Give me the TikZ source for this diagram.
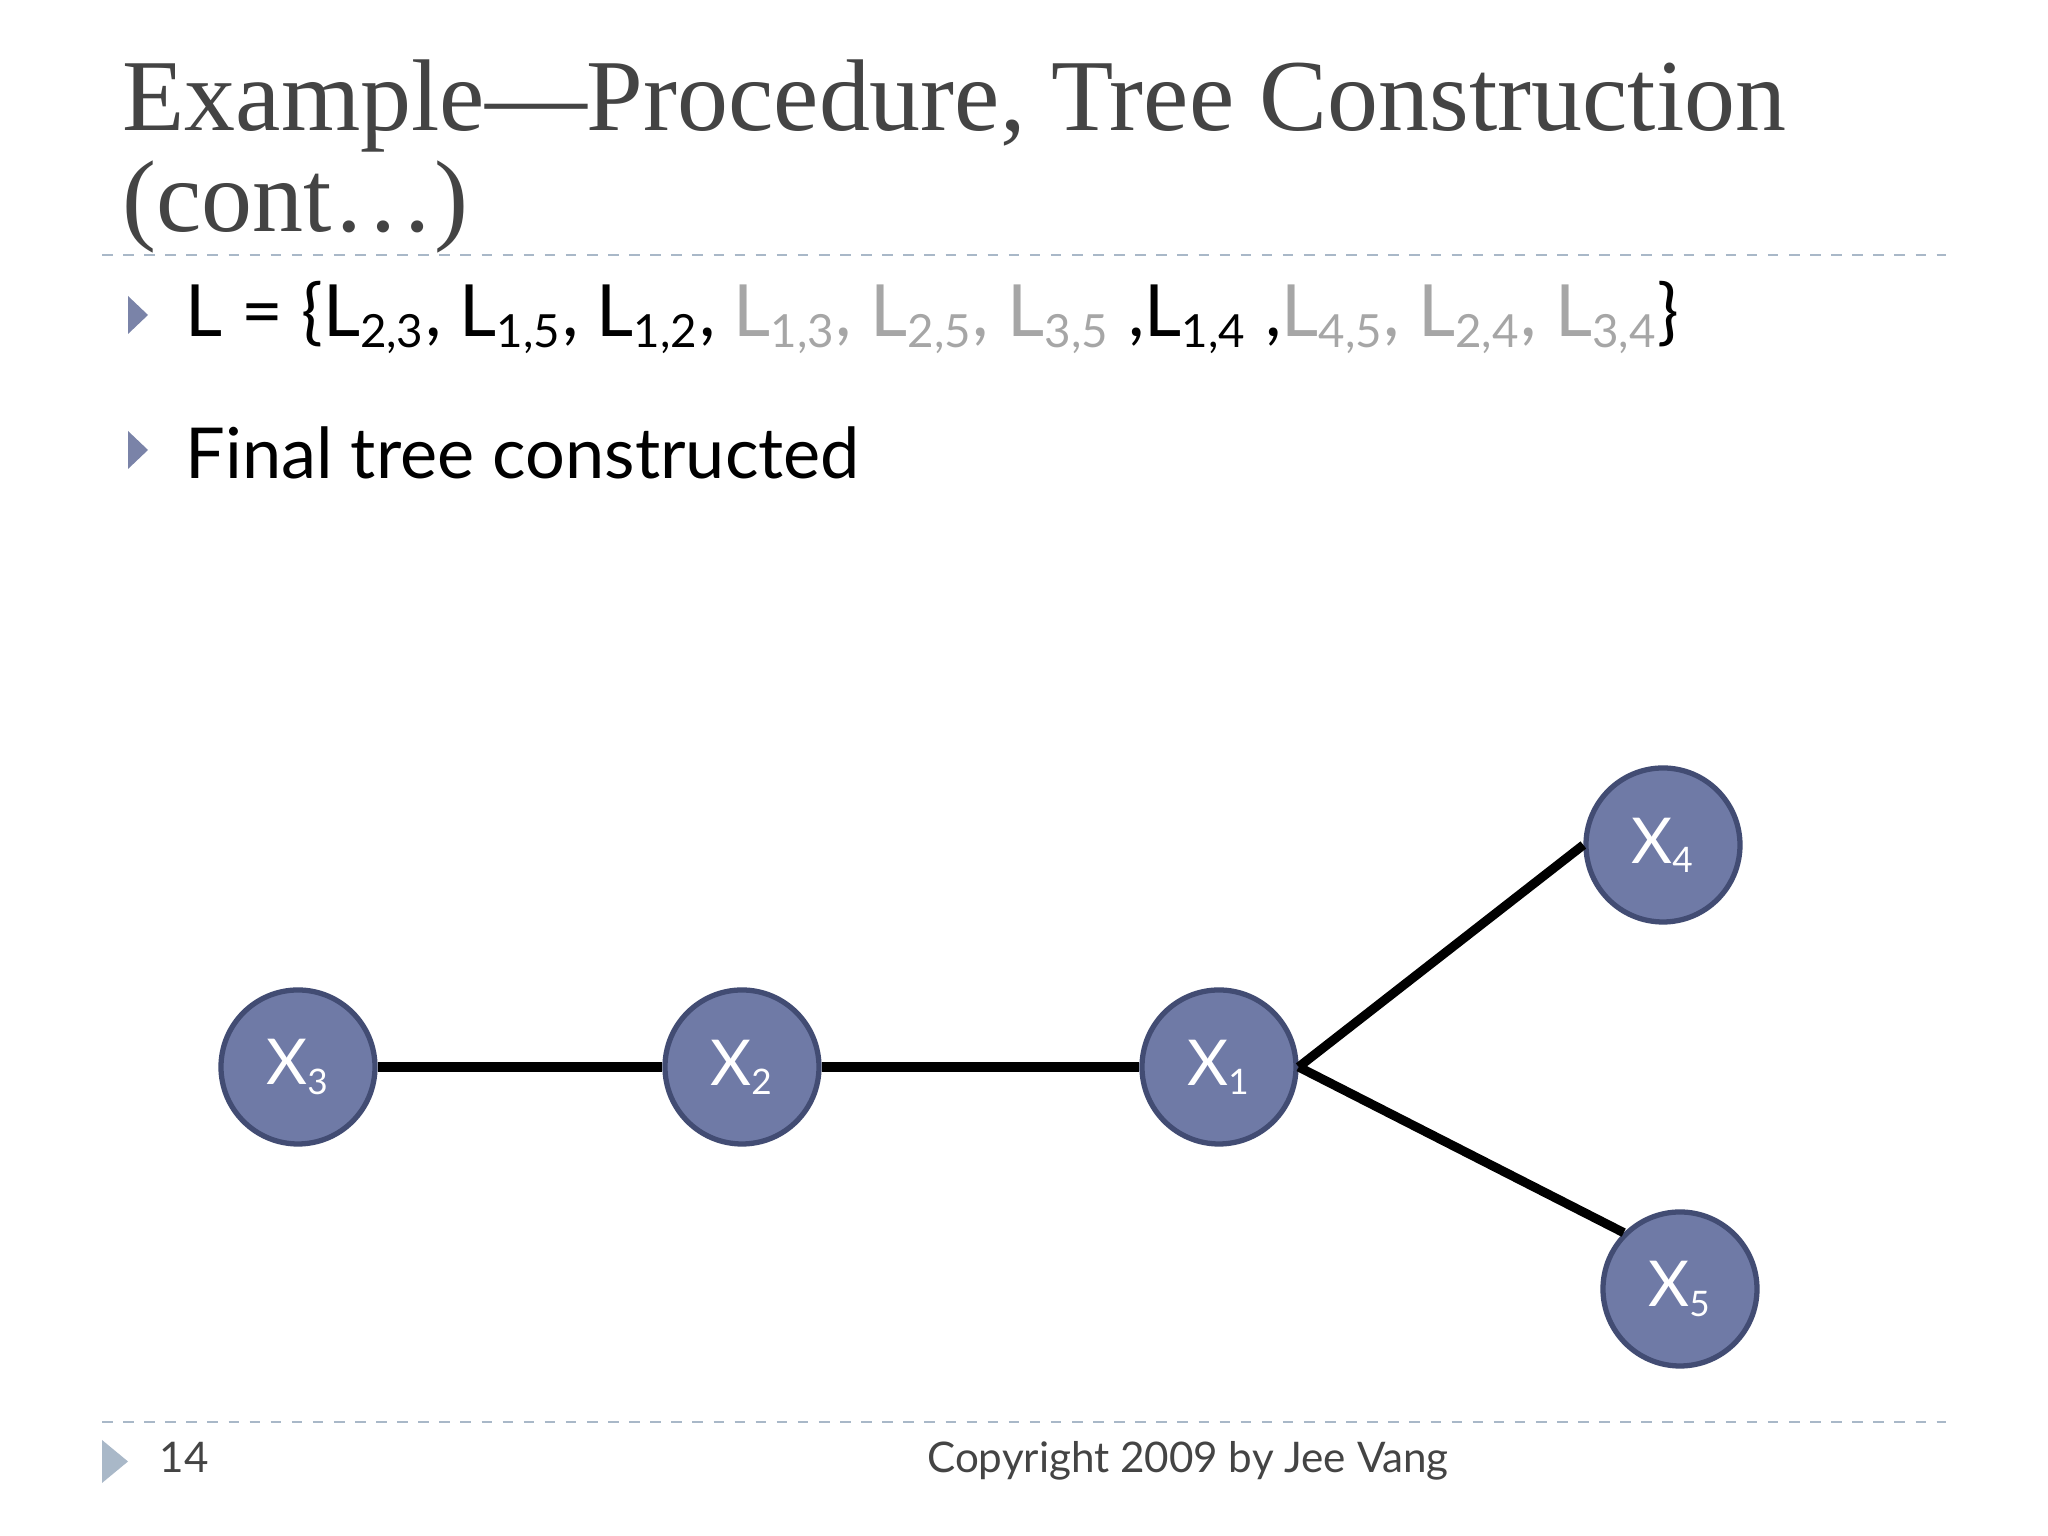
\documentclass[tikz,border=0pt]{standalone}
\usepackage{fontspec}
\setmainfont{Lato}
\newfontfamily\titlefont{Liberation Serif}
\definecolor{nodefill}{HTML}{6F7AA6}
\definecolor{nodeedge}{HTML}{424C73}
\definecolor{dashc}{HTML}{A9B8C8}
\definecolor{bul}{HTML}{7A83A8}
\definecolor{lg}{HTML}{A6A6A6}
\definecolor{titlec}{HTML}{444444}
\tikzset{
  vnode/.style={circle, fill=nodefill, draw=nodeedge, line width=1.5pt, minimum size=1.54cm, inner sep=0pt, text=white, font=\fontsize{18}{22}\selectfont},
  edge/.style={line width=2.6pt, black},
  sep/.style={dashc, dashed, line width=0.8pt},
}
\newcommand{\Lg}[1]{\textcolor{lg}{L$_{\textcolor{lg}{\mbox{\fontsize{13}{13}\selectfont #1}}}$}}
\newcommand{\Lb}[1]{L$_{\mbox{\fontsize{13}{13}\selectfont #1}}$}
\begin{document}
\begin{tikzpicture}[x=1cm,y=1cm]
\useasboundingbox (0,0) rectangle (20.48,15.36);
\fill[white] (0,0) rectangle (20.48,15.36);
\node[anchor=base west, text=titlec, font=\titlefont\fontsize{29}{36}\selectfont, inner sep=0pt] (t1) at (1.22,14.05) {Example—Procedure, Tree Construction};
\node[anchor=base west, text=titlec, font=\titlefont\fontsize{29}{36}\selectfont, inner sep=0pt] (t2) at (1.22,13.04) {(cont…)};
\draw[sep] (1.02,12.81) -- (19.46,12.81);
\fill[bul] (1.28,12.40) -- (1.28,12.02) -- (1.48,12.21) -- cycle;
\node[anchor=base west, inner sep=0pt, font=\fontsize{20.5}{24}\selectfont] (l1) at (1.85,11.99) {L = \{\Lb{2,3}, \Lb{1,5}, \Lb{1,2}, \Lg{1,3}\textcolor{lg}{,} \Lg{2,5}\textcolor{lg}{,} \Lg{3,5} ,\Lb{1,4} ,\Lg{4,5}\textcolor{lg}{,} \Lg{2,4}\textcolor{lg}{,} \Lg{3,4}\}};
\fill[bul] (1.28,11.05) -- (1.28,10.67) -- (1.48,10.86) -- cycle;
\node[anchor=base west, inner sep=0pt, font=\fontsize{20}{24}\selectfont] (l2) at (1.85,10.57) {Final tree constructed};
\node[vnode] (x3) at (2.98,4.69) {X$_{\mbox{\fontsize{10}{10}\selectfont 3}}$};
\node[vnode] (x2) at (7.42,4.69) {X$_{\mbox{\fontsize{10}{10}\selectfont 2}}$};
\node[vnode] (x1) at (12.19,4.69) {X$_{\mbox{\fontsize{10}{10}\selectfont 1}}$};
\node[vnode] (x4) at (16.63,6.91) {X$_{\mbox{\fontsize{10}{10}\selectfont 4}}$};
\node[vnode] (x5) at (16.80,2.47) {X$_{\mbox{\fontsize{10}{10}\selectfont 5}}$};
\draw[edge] (x3) -- (x2);
\draw[edge] (x2) -- (x1);
\draw[edge] (x1.east) -- (x4.west);
\draw[edge] (x1.east) -- (x5.north west);
\draw[sep] (1.02,1.14) -- (19.46,1.14);
\fill[dashc] (1.02,0.96) -- (1.02,0.53) -- (1.28,0.745) -- cycle;
\node[anchor=base west, inner sep=0pt, font=\fontsize{12}{14}\selectfont, text=titlec] (pg) at (1.59,0.63) {14};
\node[anchor=base, inner sep=0pt, font=\fontsize{12}{14}\selectfont, text=titlec] (cp) at (11.88,0.63) {Copyright 2009 by Jee Vang};
\end{tikzpicture}
\end{document}
